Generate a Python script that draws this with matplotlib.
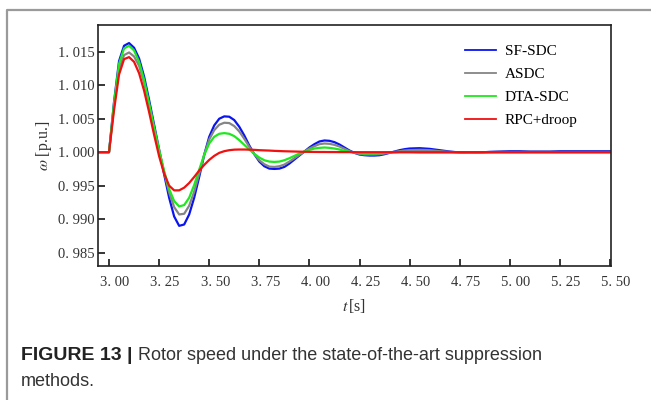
import numpy as np
import matplotlib
matplotlib.use("Agg")
import matplotlib.pyplot as plt
import matplotlib.transforms as mtransforms
from matplotlib.lines import Line2D

plt.rcParams['mathtext.fontset'] = 'stix'

# time axis [s]
t = [2.945, 3.000,
     3.025, 3.050, 3.075, 3.100, 3.125, 3.150, 3.175, 3.200, 3.225, 3.250,
     3.275, 3.300, 3.325, 3.350, 3.375, 3.400, 3.425, 3.450, 3.475, 3.500,
     3.525, 3.550, 3.575, 3.600, 3.625, 3.650, 3.675, 3.700, 3.725, 3.750,
     3.775, 3.800, 3.825, 3.850, 3.875, 3.900, 3.925, 3.950, 3.975, 4.000,
     4.025, 4.050, 4.075, 4.100, 4.125, 4.150, 4.175, 4.200, 4.225, 4.250,
     4.275, 4.300, 4.325, 4.350, 4.375, 4.400, 4.425, 4.450, 4.475, 4.500,
     4.550, 4.600, 4.650, 4.700, 4.750, 4.800, 4.850, 4.900, 4.950, 5.000,
     5.050, 5.100, 5.150, 5.200, 5.250, 5.300, 5.350, 5.400, 5.450, 5.500]

# speed deviation from 1 p.u., in 1e-3 p.u.
sf_sdc = [0, 0,
          7.5, 13.6, 15.9, 16.3, 15.6, 14.0, 11.3, 7.8, 4.1, 0.4,
          -3.3, -6.8, -9.6, -11.0, -10.8, -9.3, -6.8, -3.7, -0.4, 2.3,
          4.0, 5.0, 5.35, 5.3, 4.8, 3.8, 2.5, 1.0, -0.3, -1.4,
          -2.1, -2.45, -2.5, -2.45, -2.2, -1.7, -1.1, -0.5, 0.1, 0.7,
          1.2, 1.6, 1.75, 1.7, 1.5, 1.15, 0.7, 0.25, -0.1, -0.35,
          -0.45, -0.5, -0.5, -0.45, -0.3, -0.1, 0.1, 0.3, 0.45, 0.55,
          0.6, 0.5, 0.3, 0.1, -0.05, -0.1, -0.05, 0.05, 0.1, 0.15,
          0.15, 0.1, 0.1, 0.1, 0.15, 0.15, 0.15, 0.15, 0.15, 0.15]
asdc = [0, 0,
        6.8, 12.4, 14.5, 14.9, 14.3, 12.9, 10.4, 7.1, 3.6, 0.2,
        -3.0, -6.0, -8.2, -9.3, -9.2, -8.0, -5.9, -3.2, -0.4, 1.9,
        3.3, 4.1, 4.4, 4.35, 3.9, 3.1, 2.0, 0.8, -0.3, -1.2,
        -1.8, -2.15, -2.2, -2.1, -1.85, -1.4, -0.9, -0.4, 0.1, 0.55,
        0.9, 1.2, 1.3, 1.25, 1.1, 0.85, 0.5, 0.15, -0.1, -0.25,
        -0.35, -0.35, -0.35, -0.3, -0.2, -0.05, 0.05, 0.15, 0.25, 0.3,
        0.35, 0.3, 0.15, 0.05, -0.05, -0.1, -0.05, 0.0, 0.05, 0.05,
        0.05, 0.05, 0.05, 0.05, 0.05, 0.05, 0.05, 0.05, 0.05, 0.05]
dta_sdc = [0, 0,
           7.3, 13.2, 15.5, 15.9, 15.2, 13.5, 10.8, 7.3, 3.7, 0.3,
           -2.8, -5.5, -7.3, -8.1, -7.9, -6.8, -4.9, -2.6, -0.4, 1.3,
           2.3, 2.75, 2.85, 2.75, 2.4, 1.8, 1.1, 0.4, -0.25, -0.8,
           -1.2, -1.4, -1.45, -1.4, -1.2, -0.9, -0.55, -0.2, 0.1, 0.35,
           0.55, 0.65, 0.7, 0.65, 0.55, 0.4, 0.2, 0.05, -0.05, -0.15,
           -0.2, -0.2, -0.2, -0.15, -0.1, -0.05, -0.05, 0.0, 0.0, 0.0,
           -0.05, -0.05, -0.05, -0.05, -0.05, -0.05, -0.05, -0.05, -0.05, -0.05,
           -0.05, -0.05, -0.05, -0.05, -0.05, -0.05, -0.05, -0.05, -0.05, -0.05]
rpc_droop = [0, 0,
             6.3, 11.6, 13.9, 14.2, 13.5, 11.8, 9.2, 6.0, 2.6, -0.6,
             -3.2, -5.0, -5.7, -5.7, -5.3, -4.6, -3.7, -2.75, -1.9, -1.15,
             -0.55, -0.1, 0.15, 0.3, 0.38, 0.4, 0.4, 0.38, 0.35, 0.3,
             0.27, 0.24, 0.2, 0.17, 0.14, 0.12, 0.1, 0.08, 0.06, 0.05,
             0.04, 0.03, 0.03, 0.02, 0.02, 0.01, 0.01, 0.01, 0, 0,
             0, 0, 0, 0, 0, 0, 0, 0, 0, 0,
             0, 0, 0, 0, 0, 0, 0, 0, 0, 0,
             0, 0, 0, 0, 0, 0, 0, 0, 0, 0]

labels = ['SF-SDC', 'ASDC', 'DTA-SDC', 'RPC+droop']
colors = ['#0a14f0', '#858585', '#1ee81e', '#f01010']
xticks = [3.00, 3.25, 3.50, 3.75, 4.00, 4.25, 4.50, 4.75, 5.00, 5.25, 5.50]
yticks = [0.985, 0.990, 0.995, 1.000, 1.005, 1.010, 1.015]

fig = plt.figure(figsize=(6.51, 4.0), dpi=100)
ax = fig.add_axes([98/651, 1-266/400, 513/651, 241/400])

for dev, lab, c in zip([sf_sdc, asdc, dta_sdc, rpc_droop], labels, colors):
    omega = 1 + np.array(dev) / 1000.0
    ax.plot(t, omega, color=c, lw=1.6, label=lab)

ax.set_xlim(2.945, 5.505)
ax.set_ylim(0.983, 1.019)
ax.set_xticks(xticks)
ax.set_yticks(yticks)
ax.set_xticklabels([("%.2f" % v).replace('.', '. ') for v in xticks],
                   family='Liberation Serif', fontsize=10.5, color='#333333')
ax.set_yticklabels([("%.3f" % v).replace('.', '. ') for v in yticks],
                   family='Liberation Serif', fontsize=10.5, color='#333333')
ax.tick_params(direction='in', length=5, width=1.1)
ax.tick_params(axis='y', pad=2.2)
ax.tick_params(axis='x', pad=7)
# x tick labels sit a little to the right of their ticks in the original
shift = mtransforms.ScaledTranslation(6/100, 0, fig.dpi_scale_trans)
for lbl in ax.get_xticklabels():
    lbl.set_transform(lbl.get_transform() + shift)
for s in ax.spines.values():
    s.set_linewidth(1.2)
    s.set_color('#222222')

ax.set_xlabel(r'$t\,$[s]', family='Liberation Serif', fontsize=11.5, labelpad=6, color='#333333')
ax.set_ylabel(r'$\omega$ [p.u.]', family='Liberation Serif', fontsize=11.5, labelpad=3, color='#333333')

leg = ax.legend(loc='upper left', bbox_to_anchor=(0.689, 0.975), frameon=False,
                prop={'family': 'Liberation Serif', 'size': 11},
                handlelength=2.0, handletextpad=0.6, labelspacing=0.6)
for h in leg.get_lines():
    h.set_linewidth(1.3)

# outer page frame
fig.add_artist(Line2D([7/651, 7/651, 1.0], [0.0, 1-10/400, 1-10/400],
                      transform=fig.transFigure, color='#9a9a9a', lw=1.6))

# caption
cap = fig.text(21/651, 1-355/400, 'FIGURE 13 |', family='Liberation Sans',
               fontsize=14, fontweight='bold', color='#222222', va='center')
r = fig.canvas.get_renderer()
bb = cap.get_window_extent(renderer=r)
fig.text((bb.x1 + 5)/651, 1-355/400, 'Rotor speed under the state-of-the-art suppression',
         family='Liberation Sans', fontsize=13, color='#333333', va='center')
fig.text(21/651, 1-382/400, 'methods.', family='Liberation Sans',
         fontsize=13, color='#333333', va='center')

fig.savefig('out.png', dpi=100)
